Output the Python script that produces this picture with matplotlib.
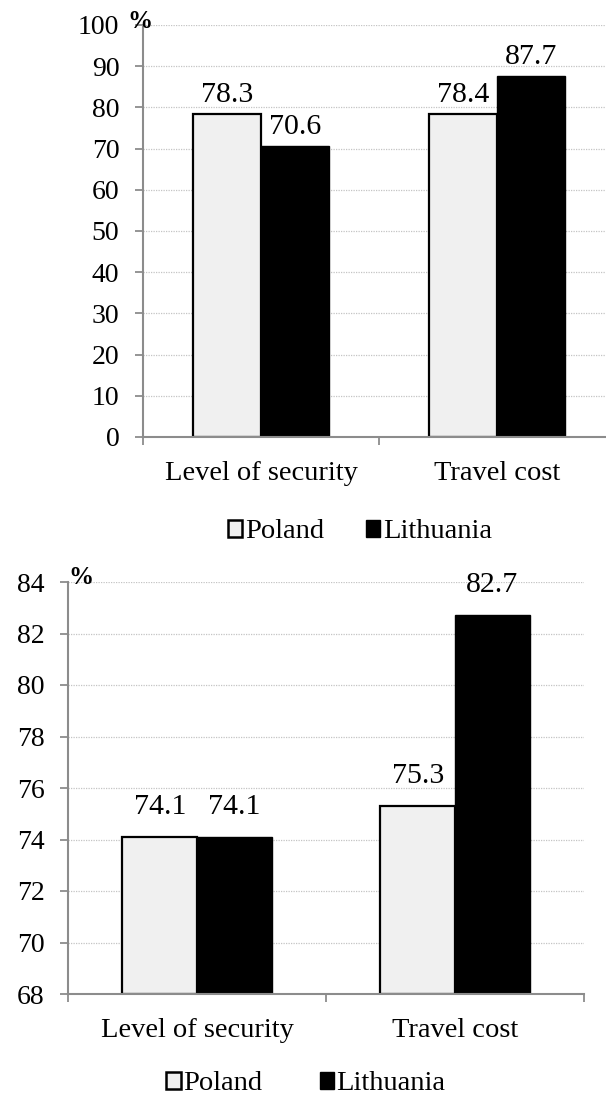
import matplotlib
matplotlib.use("Agg")
import matplotlib.pyplot as plt
from matplotlib.patches import Patch
import numpy as np

categories = ["Level of security", "Travel cost"]
series_names = ["Poland", "Lithuania"]
top_poland = [78.3, 78.4]
top_lithuania = [70.6, 87.7]
bottom_poland = [74.1, 75.3]
bottom_lithuania = [74.1, 82.7]
top_yticks = [0, 10, 20, 30, 40, 50, 60, 70, 80, 90, 100]
bottom_yticks = [68, 70, 72, 74, 76, 78, 80, 82, 84]

plt.rcParams['font.family'] = ['Liberation Serif', 'DejaVu Serif']

W, H = 606, 1099
fig = plt.figure(figsize=(W / 100, H / 100), dpi=100)

POL_FILL = "#f0f0f0"
AX_COL = "#8c8c8c"
GRID_COL = "#c4c4c4"


def ax_rect(l, r, t, b):
    return [l / W, 1 - b / H, (r - l) / W, (b - t) / H]


def draw(ax, pol, lit, yticks, ylim, width, lab_off_px, tick_fs, lab_fs, xlab_fs):
    x = np.arange(len(categories))
    ax.bar(x - width / 2, [v - ylim[0] for v in pol], width, bottom=ylim[0],
           color=POL_FILL, edgecolor="black", linewidth=1.6, zorder=3)
    ax.bar(x + width / 2, [v - ylim[0] for v in lit], width, bottom=ylim[0],
           color="black", edgecolor="black", linewidth=1.0, zorder=3)
    for xs, vals in ((x - width / 2, pol), (x + width / 2, lit)):
        for xi, v in zip(xs, vals):
            ax.annotate(f"{v:.1f}", (xi, v), xytext=(0, lab_off_px * 0.72),
                        textcoords="offset points", ha="center", va="center",
                        fontsize=lab_fs, zorder=5)
    ax.set_xlim(-0.5, len(categories) - 0.5)
    ax.set_ylim(*ylim)
    ax.set_yticks(yticks)
    ax.set_yticklabels([str(t) for t in yticks], fontsize=tick_fs)
    ax.set_xticks(x)
    ax.set_xticklabels(categories, fontsize=xlab_fs)
    ax.set_xticks(np.arange(len(categories) + 1) - 0.5, minor=True)
    ax.tick_params(axis="x", which="major", length=0, pad=17)
    ax.tick_params(axis="x", which="minor", length=6, width=1.3, color=AX_COL, direction="out")
    ax.tick_params(axis="y", length=6, width=1.3, color=AX_COL, direction="out", pad=11)
    for s in ("top", "right"):
        ax.spines[s].set_visible(False)
    for s in ("left", "bottom"):
        ax.spines[s].set_color(AX_COL)
        ax.spines[s].set_linewidth(1.5)
        ax.spines[s].set_zorder(4)
    ax.yaxis.grid(True, linestyle=(0, (1, 1)), color=GRID_COL, linewidth=0.9, zorder=0)
    ax.set_axisbelow(True)


ax1 = fig.add_axes(ax_rect(143, 615, 25, 437))
draw(ax1, top_poland, top_lithuania, top_yticks, (0, 100), 0.288, 19, 20, 21.5, 20.5)
ax2 = fig.add_axes(ax_rect(68, 584, 582, 994))
draw(ax2, bottom_poland, bottom_lithuania, bottom_yticks, (68, 84), 0.289, 30, 20, 21.5, 20.5)

fig.text(140 / W, 1 - 21 / H, "%", fontsize=18, fontweight="bold", ha="center", va="center")
fig.text(81 / W, 1 - 577 / H, "%", fontsize=18, fontweight="bold", ha="center", va="center")

handles = [Patch(facecolor=POL_FILL, edgecolor="black", linewidth=1.8),
           Patch(facecolor="black", edgecolor="black")]
for cx, cy, cs in ((360, 532, 1.45), (306, 1084, 2.0)):
    fig.legend(handles, series_names, loc="center", bbox_to_anchor=(cx / W, 1 - cy / H),
               ncol=2, frameon=False, fontsize=20.5, handlelength=0.5, handleheight=0.5,
               handletextpad=0.1, columnspacing=cs)

fig.savefig("out.png", dpi=100)
